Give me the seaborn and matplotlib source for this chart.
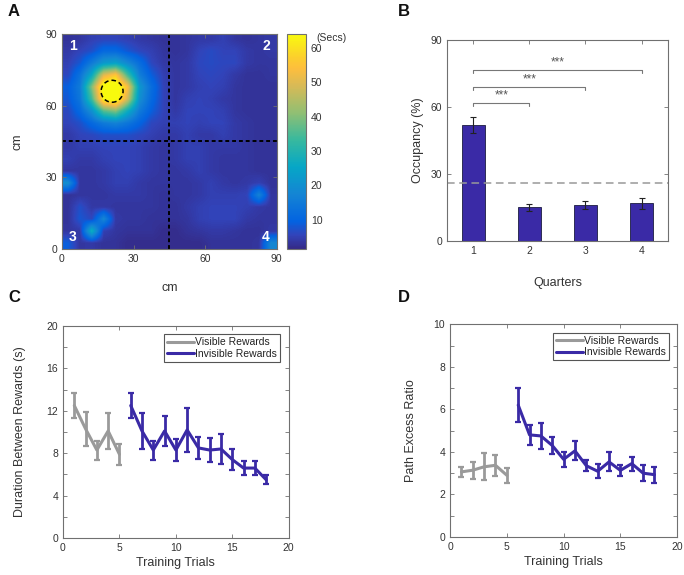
import numpy as np
import pandas as pd
import matplotlib
matplotlib.use('Agg')
import matplotlib.pyplot as plt
import seaborn as sns
from matplotlib.colors import LinearSegmentedColormap
from matplotlib.patches import Circle

# ==============================
# Data
# ==============================

# Panel A: time spent per 5 cm bin (secs), rows from top (y=87.5) to bottom (y=2.5)
occupancy_secs = np.array([
    [3, 3.5, 5, 5.5, 5.5, 5, 4, 3.5, 3, 3, 3.5, 4, 4, 5, 3.5, 3, 3.5, 4],
    [4, 5.5, 7, 11, 11, 8, 6, 5, 3.5, 3, 3.5, 5.5, 6.5, 5.5, 5.5, 4, 3.5, 4],
    [5, 8, 15, 22, 24, 18, 12, 6, 4, 3.5, 4, 6, 6.5, 6, 6, 4, 3.5, 3.5],
    [6, 13, 26, 50, 56, 34, 16, 9, 5, 3.5, 4, 5.5, 6, 5.5, 4, 3, 3, 3.5],
    [9, 15, 40, 68, 70, 54, 22, 12, 5.5, 3.5, 4, 5, 5.5, 5, 3.5, 3, 3, 3],
    [8, 14, 34, 64, 68, 48, 20, 11, 5.5, 3.5, 5, 5.5, 5, 4, 3.5, 3, 3, 3],
    [6, 11, 20, 36, 40, 27, 15, 9, 5.5, 4, 5.5, 5.5, 5.5, 5, 3.5, 3, 3, 3],
    [5.5, 7, 11, 15, 17, 14, 10, 6, 5, 5, 5.5, 5, 5.5, 5.5, 4, 3.5, 3, 3],
    [4, 5.5, 6, 7, 7, 7, 6, 5, 4, 4, 5, 4, 4, 5, 4, 3.5, 3, 3],
    [4, 5, 5, 5.5, 5.5, 5.5, 5, 4, 3.5, 4, 5, 5, 4, 4, 4, 3.5, 3, 3],
    [5, 4, 4, 5, 5.5, 5.5, 5, 4, 3.5, 4, 5, 5, 4, 3.5, 3.5, 3.5, 3, 3],
    [3.5, 3.5, 3.5, 4, 5, 5.5, 5, 4, 3.5, 3.5, 4, 5, 4, 3.5, 3.5, 3.5, 3, 3],
    [20, 3.5, 3.5, 4, 5, 5, 4, 3.5, 3.5, 3.5, 3.5, 4, 5, 4, 3.5, 4, 5, 3],
    [3, 3.5, 3.5, 3.5, 4, 4, 4, 3.5, 3, 3.5, 3.5, 4, 5, 5, 5, 5.5, 17, 3.5],
    [3, 7, 4, 4, 3.5, 3.5, 3.5, 3.5, 3, 3, 4, 5, 5.5, 5.5, 5.5, 5, 4, 3.5],
    [3, 8, 6, 18, 4, 3.5, 3.5, 3, 3, 3, 3.5, 5, 5.5, 5.5, 5.5, 4, 3.5, 3.5],
    [3.5, 4, 28, 5, 3.5, 3, 3, 3, 2, 2, 3, 3.5, 4, 4, 3.5, 3, 3, 4],
    [9, 3.5, 4, 3, 3, 2, 2, 2, 2, 2, 2, 2, 3, 3, 3, 3, 3.5, 18],
])
reward_x, reward_y, reward_r = 21, 66, 4.6
quadrant_split = 45
quadrant_labels = ['1', '2', '3', '4']
quadrant_label_x = [4.5, 85.5, 4.5, 85.5]
quadrant_label_y = [85, 85, 5, 5]

# Panel B: occupancy per quarter
quarters = [1, 2, 3, 4]
occupancy_pct = [52.0, 15.1, 16.1, 16.9]
occupancy_err = [3.5, 1.5, 1.8, 2.5]
chance_level = 26
sig_ends = [2, 3, 4]
sig_heights = [61.7, 69.1, 76.7]

# Panel C / D: training curves
visible_trials = [1, 2, 3, 4, 5]
invisible_trials = [6, 7, 8, 9, 10, 11, 12, 13, 14, 15, 16, 17, 18]

visible_duration = [12.5, 10.3, 8.3, 10.1, 7.9]
visible_duration_err = [1.2, 1.6, 0.9, 1.7, 1.0]
invisible_duration = [12.5, 10.1, 8.3, 10.1, 8.3, 10.2, 8.5, 8.3, 8.4, 7.4, 6.6, 6.6, 5.5]
invisible_duration_err = [1.2, 1.7, 0.9, 1.4, 1.0, 2.1, 1.0, 1.1, 1.4, 1.0, 0.7, 0.7, 0.4]

visible_path = [3.06, 3.14, 3.30, 3.37, 2.90]
visible_path_err = [0.25, 0.40, 0.64, 0.50, 0.36]
invisible_path = [6.2, 4.8, 4.75, 4.3, 3.65, 4.05, 3.35, 3.09, 3.53, 3.13, 3.45, 3.0, 2.93]
invisible_path_err = [0.8, 0.47, 0.6, 0.42, 0.36, 0.45, 0.26, 0.32, 0.45, 0.26, 0.33, 0.37, 0.38]

# ==============================
# Style
# ==============================

sns.set_theme(style='ticks')
plt.rcParams['font.family'] = ['Liberation Sans', 'DejaVu Sans']
plt.rcParams['xtick.direction'] = 'in'
plt.rcParams['ytick.direction'] = 'in'
plt.rcParams['xtick.labelsize'] = 7.5
plt.rcParams['ytick.labelsize'] = 7.5
plt.rcParams['axes.labelsize'] = 9
plt.rcParams['axes.edgecolor'] = '#707070'
plt.rcParams['axes.linewidth'] = 0.8
plt.rcParams['xtick.color'] = '#707070'
plt.rcParams['ytick.color'] = '#707070'
plt.rcParams['xtick.labelcolor'] = '#333333'
plt.rcParams['ytick.labelcolor'] = '#333333'
plt.rcParams['axes.labelcolor'] = '#333333'

blue = '#3a2aa6'
grey = '#9a9a9a'

# MATLAB parula, sampled
parula = LinearSegmentedColormap.from_list('parula', [
    (0 / 63, (0.2081, 0.1663, 0.5292)),
    (4 / 63, (0.1959, 0.2645, 0.7279)),
    (8 / 63, (0.0117, 0.3875, 0.8820)),
    (16 / 63, (0.0793, 0.5200, 0.8312)),
    (24 / 63, (0.0228, 0.6535, 0.7768)),
    (32 / 63, (0.2178, 0.7250, 0.6193)),
    (40 / 63, (0.5709, 0.7485, 0.4494)),
    (48 / 63, (0.8507, 0.7299, 0.3360)),
    (53 / 63, (0.9938, 0.7455, 0.2403)),
    (56 / 63, (0.9880, 0.8066, 0.1794)),
    (63 / 63, (0.9763, 0.9831, 0.0538))])


def box_ticks(ax):
    ax.tick_params(top=True, right=True, length=3, width=0.6)


fig = plt.figure(figsize=(6.84, 5.75), dpi=100)

# ==============================
# A - occupancy heatmap
# ==============================

ax_a = fig.add_axes([0.0906, 0.567, 0.314, 0.374])
im = ax_a.imshow(occupancy_secs, extent=(0, 90, 0, 90), origin='upper', cmap=parula,
                 vmin=1.5, vmax=64, interpolation='bilinear', aspect='auto')
ax_a.axvline(quadrant_split, color='black', ls=(0, (2, 1.5)), lw=1.4)
ax_a.axhline(quadrant_split, color='black', ls=(0, (2, 1.5)), lw=1.4)
ax_a.add_patch(Circle((reward_x, reward_y), reward_r, fill=False, ec='black',
                      ls=(0, (3, 2)), lw=1.1))
for lab, qx, qy in zip(quadrant_labels, quadrant_label_x, quadrant_label_y):
    ax_a.text(qx, qy, lab, color='white', fontsize=10, fontweight='bold',
              ha='center', va='center')
ax_a.set_xlim(0, 90)
ax_a.set_ylim(0, 90)
ax_a.set_xticks([0, 30, 60, 90])
ax_a.set_yticks([0, 30, 60, 90])
box_ticks(ax_a)
ax_a.set_xlabel('cm', labelpad=13)
ax_a.set_ylabel('cm', labelpad=16)

cax = fig.add_axes([0.4196, 0.567, 0.0278, 0.374])
cb = fig.colorbar(im, cax=cax)
cb.set_ticks([10, 20, 30, 40, 50, 60])
cb.ax.tick_params(direction='in', length=3, width=0.6, labelsize=7.5)
cb.outline.set_edgecolor('#707070')
cb.outline.set_linewidth(0.8)
fig.text(0.463, 0.934, '(Secs)', fontsize=7.5, color='#333333', ha='left', va='center')

# ==============================
# B - occupancy per quarter
# ==============================

ax_b = fig.add_axes([0.6535, 0.5809, 0.323, 0.3496])
df_b = pd.DataFrame({'Quarter': quarters, 'Occupancy': occupancy_pct})
sns.barplot(data=df_b, x='Quarter', y='Occupancy', color=blue, width=0.4,
            errorbar=None, edgecolor='#1c1c40', linewidth=0.6, saturation=1, ax=ax_b)
ax_b.errorbar(range(len(quarters)), occupancy_pct, yerr=occupancy_err, fmt='none',
              ecolor='#222222', elinewidth=0.8, capsize=2, capthick=0.8)
ax_b.axhline(chance_level, color='#999999', ls=(0, (5, 3)), lw=1.1)
for end, h in zip(sig_ends, sig_heights):
    ax_b.plot([0, 0, end - 1, end - 1], [h - 1.3, h, h, h - 1.3], color='#777777', lw=0.8)
    ax_b.text((end - 1) / 2, h + 0.6, '***', color='#555555', fontsize=8.5,
              ha='center', va='bottom')
ax_b.set_xlim(-0.47, 3.47)
ax_b.set_ylim(0, 90)
ax_b.set_yticks([0, 30, 60, 90])
box_ticks(ax_b)
ax_b.set_xlabel('Quarters', labelpad=15)
ax_b.set_ylabel('Occupancy (%)', labelpad=5)

# ==============================
# C / D - training curves
# ==============================

def training_panel(rect, vis_y, vis_err, inv_y, inv_err, ylabel, ymax, ystep, ylabpad):
    ax = fig.add_axes(rect)
    df = pd.DataFrame({
        'trial': visible_trials + invisible_trials,
        'value': vis_y + inv_y,
        'group': ['Visible Rewards'] * len(visible_trials) +
                 ['Invisible Rewards'] * len(invisible_trials),
    })
    sns.lineplot(data=df, x='trial', y='value', hue='group',
                 palette={'Visible Rewards': grey, 'Invisible Rewards': blue},
                 lw=2.2, ax=ax)
    ax.errorbar(visible_trials, vis_y, yerr=vis_err, fmt='none', ecolor=grey,
                elinewidth=2, capsize=2, capthick=1.6)
    ax.errorbar(invisible_trials, inv_y, yerr=inv_err, fmt='none', ecolor=blue,
                elinewidth=2, capsize=2, capthick=1.6)
    ax.set_xlim(0, 20)
    ax.set_ylim(0, ymax)
    ax.set_xticks([0, 5, 10, 15, 20])
    ax.set_yticks(np.arange(0, ymax + 0.1, ystep * 2))
    ax.set_yticks(np.arange(0, ymax + 0.1, ystep), minor=True)
    ax.tick_params(which='minor', left=True, right=True, direction='in', length=3, width=0.6)
    box_ticks(ax)
    ax.set_xlabel('Training Trials', labelpad=3)
    ax.set_ylabel(ylabel, labelpad=ylabpad)
    leg = ax.legend(loc='upper right', fontsize=7.5, frameon=True, fancybox=False,
                    edgecolor='#555555', framealpha=1, handlelength=2.6,
                    handletextpad=0.1, borderpad=0.3, labelspacing=0.15,
                    borderaxespad=0.8)
    leg.get_frame().set_linewidth(0.8)
    for t in leg.get_texts():
        t.set_color('#222222')
    return ax


training_panel([0.0921, 0.0643, 0.330, 0.3687], visible_duration, visible_duration_err,
               invisible_duration, invisible_duration_err,
               'Duration Between Rewards (s)', 20, 2, 15)
training_panel([0.658, 0.0661, 0.332, 0.370], visible_path, visible_path_err,
               invisible_path, invisible_path_err,
               'Path Excess Ratio', 10, 1, 12)

# ==============================
# Panel letters
# ==============================

for lab, px, py in [('A', 8, 12), ('B', 398, 12), ('C', 8, 297), ('D', 398, 297)]:
    fig.text(px / 684, 1 - py / 575, lab, fontsize=12, fontweight='bold',
             ha='left', va='center', color='#111111')

fig.savefig('out.png', dpi=100)
